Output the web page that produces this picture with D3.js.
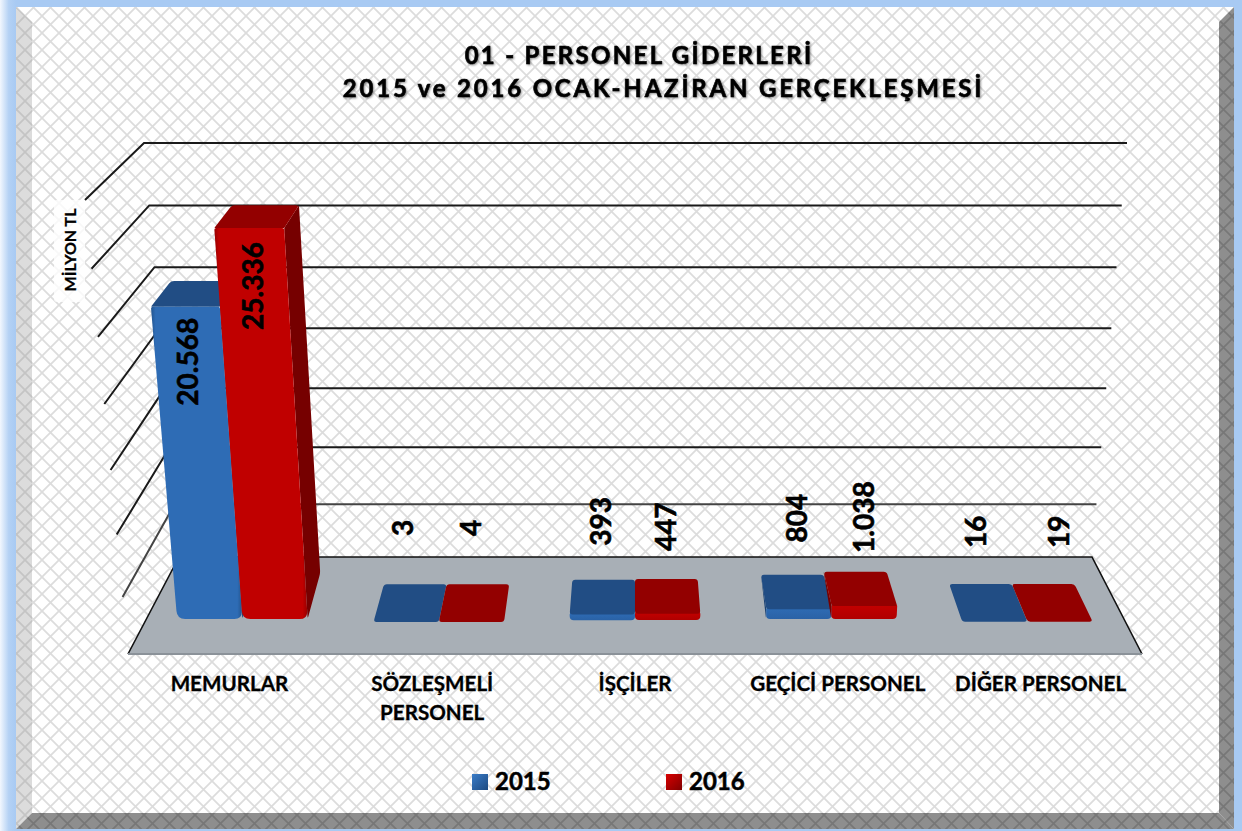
<!DOCTYPE html>
<html><head><meta charset="utf-8">
<style>html,body{margin:0;padding:0;background:#fff}svg{display:block}text{font-family:Lato,"Open Sans",sans-serif;font-weight:700;fill:#000;stroke:#000;stroke-width:.3px}</style>
<script src="https://cdn.jsdelivr.net/npm/d3@7"></script></head><body><script>
const titleLines = ["01 - PERSONEL GİDERLERİ", "2015 ve 2016 OCAK-HAZİRAN GERÇEKLEŞMESİ"];
const categories = ["MEMURLAR", "SÖZLEŞMELİ PERSONEL", "İŞÇİLER", "GEÇİCİ PERSONEL", "DİĞER PERSONEL"];
const seriesNames = ["2015", "2016"];
const values2015 = [20568, 3, 393, 804, 16];
const values2016 = [25336, 4, 447, 1038, 19];
const gridValues = [0, 5000, 10000, 15000, 20000, 25000, 30000, 35000];
const axisTitle = "MİLYON TL";

const W = 1242, H = 831;
const svg = d3.select("body").append("svg").attr("width", W).attr("height", H);
const defs = svg.append("defs");

// hatch
const mkHatch = (id, col, bg) => {
  const p = defs.append("pattern").attr("id", id).attr("patternUnits", "userSpaceOnUse")
    .attr("width", 17).attr("height", 17).attr("x", 8).attr("y", 16);
  p.append("rect").attr("width", 17).attr("height", 17).attr("fill", bg);
  p.append("path").attr("d", "M-1,-1L18,18M-1,18L18,-1").attr("stroke", col).attr("stroke-width", 1.7).attr("fill", "none");
};
mkHatch("hWhite", "#dcdcdc", "#fff");
mkHatch("hLeft", "#c4c4c4", "#dcdcdc");
mkHatch("hDark", "#777", "#8e8e8e");
const grad = (id, stops, x2 = 1, y2 = 0) => {
  const g = defs.append("linearGradient").attr("id", id).attr("x1", 0).attr("y1", 0).attr("x2", x2).attr("y2", y2);
  stops.forEach(([o, c]) => g.append("stop").attr("offset", o).attr("stop-color", c));
};
grad("glow", [[0, "#f2f7fe"], [.55, "#b4d1f4"], [1, "#a8caf3"]]);
grad("frontB", [[0, "#23558f"], [.05, "#2e6cb5"], [.95, "#2e6cb5"], [1, "#23558f"]]);
grad("frontR", [[0, "#980000"], [.05, "#c00000"], [.95, "#c00000"], [1, "#980000"]]);
grad("lipB", [[0, "#2e6cb5"], [1, "#2a62a6"]], 0, 1);
grad("lipR", [[0, "#c40000"], [1, "#b00000"]], 0, 1);
grad("swB", [[0, "#3a7cc8"], [1, "#1d4a80"]], 1, 1);
grad("swR", [[0, "#d80000"], [1, "#800000"]], 1, 1);
const sh = defs.append("filter").attr("id", "tShadow").attr("x", "-5%").attr("y", "-30%").attr("width", "110%").attr("height", "160%");
sh.append("feDropShadow").attr("dx", 1).attr("dy", 1).attr("stdDeviation", 1.2).attr("flood-color", "#000").attr("flood-opacity", .45);

// frame
svg.append("rect").attr("width", W).attr("height", H).attr("fill", "#a8caf3");
svg.append("rect").attr("width", 16).attr("height", H).attr("fill", "url(#glow)");
svg.append("rect").attr("x", 16).attr("y", 7).attr("width", 1218).attr("height", 822).attr("fill", "url(#hWhite)");
const poly = (pts, fill, g = svg) => g.append("polygon").attr("points", pts.map(p => p.join(",")).join(" ")).attr("fill", fill);
poly([[16, 7], [32, 22], [32, 813], [16, 829]], "url(#hLeft)");
poly([[1234, 7], [1219, 22], [1219, 813], [1234, 829]], "url(#hDark)");
poly([[16, 829], [32, 813], [1219, 813], [1234, 829]], "url(#hDark)");

// title
const titleLayout = [{ x: 639, ls: 2.3 }, { x: 663.5, ls: 2.8 }];
svg.append("g").attr("filter", "url(#tShadow)").selectAll("text").data(titleLines).join("text")
  .attr("x", (d, i) => titleLayout[i].x).attr("y", (d, i) => 64 + i * 33).attr("text-anchor", "middle")
  .attr("font-size", 24).attr("letter-spacing", (d, i) => titleLayout[i].ls).style("stroke-width", ".6px").text(d => d);

// geometry
const BACK = 557, FRONT = 654;
const wallY = d3.scalePow().exponent(1.06).domain([0, 35000]).range([BACK, 143]);
const sideY = d3.scalePow().exponent(1.066).domain([0, 35000]).range([FRONT, 200]);
const backLeftX = d3.scaleLinear().domain([BACK, 143]).range([179, 144]);
const backRightX = d3.scaleLinear().domain([BACK, 143]).range([1092, 1127]);
const frontLeftX = d3.scaleLinear().domain([FRONT, 200]).range([128, 85]);

// grid
const grid = svg.append("g").attr("fill", "none");
gridValues.slice(1).forEach(v => {
  const y = wallY(v);
  grid.append("path").attr("d", d3.line()([[frontLeftX(sideY(v)), sideY(v)], [backLeftX(y), y], [backRightX(y), y]]))
    .attr("stroke", v < 10000 ? "#444" : "#1a1a1a").attr("stroke-width", 2);
});

// floor
poly([[128, FRONT], [179, BACK], [1092, BACK], [1142, FRONT]], "#a8afb6");
svg.append("path").attr("d", d3.line()([[128, FRONT], [179, BACK], [1092, BACK], [1142, FRONT]])).attr("fill", "none").attr("stroke", "#111").attr("stroke-width", 1.6);
svg.append("line").attr("x1", 128).attr("x2", 1142).attr("y1", FRONT).attr("y2", FRONT).attr("stroke", "#8b9299").attr("stroke-width", 2);

// bars
const cat = d3.scaleBand().domain(categories).range([0, 1]).paddingInner(.335).paddingOuter(.1675);
const ser = d3.scaleBand().domain(seriesNames).range([0, cat.bandwidth()]);
const floorLeft = d3.scaleLinear().domain([0, 1]).range([128, 178]);
const floorRight = d3.scaleLinear().domain([0, 1]).range([1142, 1092]);
const floorY = d3.scaleLinear().domain([0, 1]).range([FRONT, BACK]);
const frontH = d3.scalePow().exponent(1.07).domain([0, 25336]).range([0, 394]);
const backH = d3.scalePow().exponent(1.07).domain([0, 25336]).range([0, 379]);
const P = (u, d, h) => {
  const x0 = floorLeft(d) + u * (floorRight(d) - floorLeft(d));
  return [636 + (x0 - 636) * (1 + 1.83e-4 * h), floorY(d) - h];
};
// closed path with one corner radius per vertex
const rounded = (pts, rs) => {
  const n = pts.length;
  let d = "";
  pts.forEach((p, i) => {
    const a = pts[(i + n - 1) % n], b = pts[(i + 1) % n];
    const towards = (q, r) => {
      const L = Math.hypot(q[0] - p[0], q[1] - p[1]) || 1, t = Math.min(r, L / 2) / L;
      return [p[0] + (q[0] - p[0]) * t, p[1] + (q[1] - p[1]) * t];
    };
    const s = towards(a, rs[i]), e = towards(b, rs[i]);
    d += `${i ? "L" : "M"}${s[0]},${s[1]}Q${p[0]},${p[1]} ${e[0]},${e[1]}`;
  });
  return d + "Z";
};
const dF = .33, dB = .72;
const colours = {
  "2015": { front: "url(#frontB)", top: "#214d84", side: "#1c4373", lip: "url(#lipB)" },
  "2016": { front: "url(#frontR)", top: "#930000", side: "#760000", lip: "url(#lipR)" }
};
const bars = svg.append("g");
const drawn = {};
categories.forEach((c, i) => {
  seriesNames.forEach((s, k) => {
    const v = (k ? values2016 : values2015)[i], col = colours[s];
    const u0 = cat(c) + ser(s), u1 = u0 + ser.bandwidth();
    const hF = frontH(v), hB = backH(v);
    const inset = 3 * Math.min(1, hF / 8);
    const tall = hF > 30;
    // small bars: the visible lip is pushed a little above the projected height
    const lipTop = tall ? hF : hF + Math.min(hF, 3);
    const g = bars.append("g");
    const face = (pts, rs, fill) => g.append("path").attr("d", rounded(pts, rs)).attr("fill", fill);
    const uS = (u0 + u1) / 2 < .5 ? u1 : u0;
    if (hF > 3) {
      face([P(uS, dF, inset), P(uS, dF, lipTop), P(uS, dB, hB), P(uS, dB, Math.min(hB, 11))], [3, 1, 1, 3], col.side);
    }
    if (hF > 1 && !tall) {
      face([P(u0, dF, inset), P(u1, dF, inset), P(u1, dF, lipTop + 2), P(u0, dF, lipTop + 2)], [4, 4, 2, 2], col.lip);
    }
    face([P(u0, dF, lipTop), P(u1, dF, lipTop), P(u1, dB, hB), P(u0, dB, hB)], tall ? [1, 1, 3, 3] : [3, 3, 3, 3], col.top);
    if (tall) {
      face([P(u0, dF, inset), P(u1, dF, inset), P(u1, dF, hF), P(u0, dF, hF)], [8, 8, 2, 2], col.front);
    }
    drawn[s + i] = { u: (u0 + u1) / 2, hF };
  });
});

// value labels
const fmt = d3.formatLocale({ decimal: ",", thousands: ".", grouping: [3], currency: ["", ""] }).format(",d");
const labelLayout = { // centre of each rotated label on screen, measured from the bar's projected centre
  "20150": [-29, 55], "20160": [-29, 58],
  "20151": [-7, -94], "20161": [-3, -94],
  "20152": [-2, -96], "20162": [-1, -90],
  "20153": [1, -94], "20163": [4, -92],
  "20154": [-13, -90], "20164": [6, -90]
};
const labels = svg.append("g");
seriesNames.forEach((s, k) => (k ? values2016 : values2015).forEach((v, i) => {
  const b = drawn[s + i], [dx, dy] = labelLayout[s + i];
  const p = P(b.u, dF + .17, 0), topY = floorY(dF) - b.hF;
  labels.append("text").attr("transform", `translate(${p[0] + dx},${topY + dy}) rotate(-90)`)
    .attr("text-anchor", "middle").attr("dy", "0.36em").attr("font-size", 28).style("stroke-width", ".6px").text(fmt(v));
}));

// category axis
const xFront = d3.scaleBand().domain(categories).range([128, 1142]);
const axis = svg.append("g").attr("transform", `translate(0,${FRONT})`).call(d3.axisBottom(xFront).tickSize(0));
axis.select(".domain").remove();
axis.selectAll("text").attr("font-size", 20.6).attr("y", 37).attr("dy", null).each(function (d) {
  const t = d3.select(this).text("");
  const lines = d === "SÖZLEŞMELİ PERSONEL" ? d.split(" ") : [d];
  lines.forEach((l, j) => t.append("tspan").attr("x", 0).attr("dy", j ? 29 : 0).text(l));
});
axis.attr("font-family", null).attr("font-size", null);

// axis title
svg.append("rect").attr("x", 54).attr("y", 200).attr("width", 31).attr("height", 102).attr("rx", 3).attr("fill", "#fff").attr("opacity", .8);
svg.append("text").attr("transform", "translate(76,250) rotate(-90)").attr("text-anchor", "middle").attr("font-size", 16).text(axisTitle);

// legend
const legendX = d3.scalePoint().domain(seriesNames).range([472, 666]);
seriesNames.forEach((s, k) => {
  svg.append("rect").attr("x", legendX(s)).attr("y", 774).attr("width", 16).attr("height", 16).attr("fill", k ? "url(#swR)" : "url(#swB)");
  svg.append("text").attr("x", legendX(s) + 23).attr("y", 790).attr("font-size", 24).style("stroke-width", ".5px").text(s);
});
</script></body></html>
